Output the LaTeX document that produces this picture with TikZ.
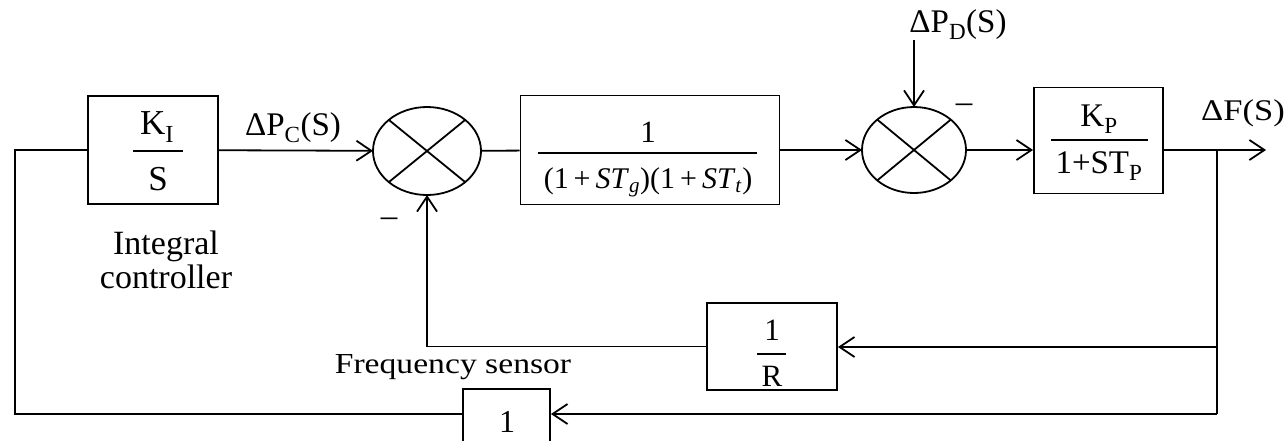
\documentclass[tikz,border=0pt]{standalone}
\usepackage{fontspec}
\setmainfont{Liberation Serif}
\usetikzlibrary{arrows.meta,shapes.geometric,calc}
\newcommand\fsz[1]{\fontsize{#1}{#1}\selectfont}
\newcommand\sbs[1]{\textsubscript{#1}}
\begin{document}
\begin{tikzpicture}[x=1pt,y=-1pt,
  line width=1.8pt,
  arr/.style={-{Straight Barb[length=15pt,width=20pt,line width=1.8pt]}},
  blk/.style={draw, rectangle, inner sep=0pt},
  sumj/.style={draw, ellipse, inner sep=0pt, outer sep=0pt},
  lbl/.style={inner sep=0pt},
  fracline/.style={line width=1.3pt},
]
\useasboundingbox (0,0) rectangle (1287,440);

% Integral controller block
\node[blk, minimum width=130pt, minimum height=108pt] (kis) at (153,150) {};
\node[lbl] (kisn) at (157,127) {\fsz{35}K\sbs{I}};
\draw[fracline] (133,151) -- (183,151);
\node[lbl] (kisd) at (158,179) {\fsz{35}S};
\node[lbl, align=center, font=\fsz{34}] (ic) at (166,260) {Integral\\controller};

% Summing junction 1
\node[sumj, minimum width=108pt, minimum height=88pt] (s1) at (427,151) {};
\draw (s1.north west) -- (s1.south east) (s1.north east) -- (s1.south west);
\node[lbl] (pc) at (293,128) {\fsz{33}ΔP\sbs{C}(S)};
\node[lbl] (m1) at (389,222) {\fsz{33}–};
\draw[arr] (kis) -- (s1);

% Governor-turbine block
\node[blk, minimum width=259pt, minimum height=109pt] (g) at (650,150) {};
\node[lbl] (gn) at (648,132) {\fsz{31}1};
\draw[fracline] (538,153) -- (757,153);
\node[lbl] (gd) at (648,182) {\fsz{30}(1\,+\,\textit{ST}\sbs{\textit{g}})(1\,+\,\textit{ST}\sbs{\textit{t}})};
\draw (s1) -- (g);

% Summing junction 2
\node[sumj, minimum width=104pt, minimum height=86pt] (s2) at (914,150) {};
\draw (s2.north west) -- (s2.south east) (s2.north east) -- (s2.south west);
\draw[arr] (g) -- (s2);
\node[lbl] (pd) at (958,25) {\fsz{33}ΔP\sbs{D}(S)};
\coordinate (pdin) at (914,40);
\draw[arr] (pdin) -- (s2);
\node[lbl] (m2) at (964,108) {\fsz{33}–};

% Power system block
\node[blk, minimum width=129pt, minimum height=106pt] (gp) at (1098.5,140.5) {};
\node[lbl] (gpn) at (1099,119) {\fsz{33}K\sbs{P}};
\draw[fracline] (1051,140) -- (1148,140);
\node[lbl] (gpd) at (1099,166) {\fsz{33}1+ST\sbs{P}};
\draw[arr] (s2) -- (s2 -| gp.west);

% Output
\coordinate (out) at (1266,150);
\coordinate (br) at (1217,150);
\draw[arr] (gp.east |- s2) -- (out);
\node[lbl] (df) at (1243,113) {\fsz{30}\scalebox{1.15}[1]{ΔF(S)}};
\coordinate (brr) at (1217,347);
\coordinate (brb) at (1217,414);
\draw (br) -- (brb);

% Droop block
\node[blk, minimum width=130pt, minimum height=87pt] (r) at (772,346.5) {};
\node[lbl] (rn) at (772,330) {\fsz{31}1};
\draw[fracline] (757,354) -- (786,354);
\node[lbl] (rd) at (772,376) {\fsz{31}R};
\draw[arr] (brr) -- (brr -| r.east);
\draw[arr] (r.west) -- (s1 |- r.west) -- (s1.south);

% Frequency sensor
\node[lbl] (fsn) at (453,367) {\fsz{29}\scalebox{1.16}[1]{Frequency sensor}};
\node[blk, minimum width=87pt, minimum height=54pt] (one) at (506.5,416) {};
\node[lbl] (onet) at (507,422) {\fsz{32}1};
\draw[arr] (brb) -- (brb -| one.east);
\coordinate (bl) at (15,414);
\coordinate (tl) at (15,150);
\draw (one.west |- brb) -- (bl) -- (tl) -- (kis.west);
\end{tikzpicture}
\end{document}
